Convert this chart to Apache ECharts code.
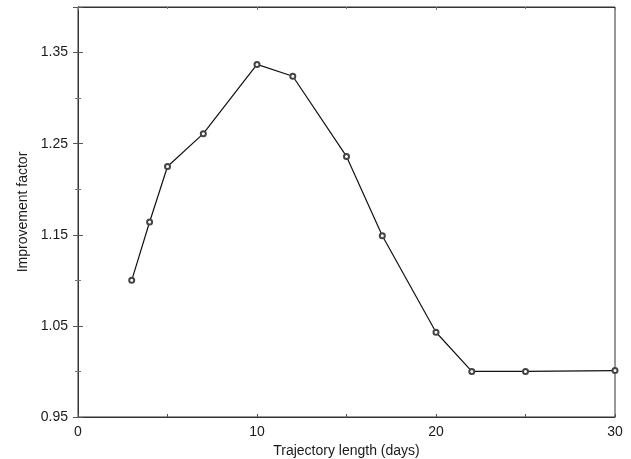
<!DOCTYPE html>
<html>
<head>
<meta charset="utf-8">
<script src="https://cdn.jsdelivr.net/npm/echarts@6/dist/echarts.min.js"></script>
<style>
  html, body { margin: 0; padding: 0; background: #fff; }
  #chart { width: 631px; height: 459px; }
</style>
</head>
<body>
<div id="chart"></div>
<script>
// trajectory length in days
var days = [3, 4, 5, 7, 10, 12, 15, 17, 20, 22, 25, 30];
// improvement factor
var factor = [1.100, 1.164, 1.225, 1.261, 1.337, 1.324, 1.236, 1.149, 1.043, 1.000, 1.000, 1.001];
var xTicks = [0, 10, 20, 30];
var yTicks = [0.95, 1.05, 1.15, 1.25, 1.35];

var pts = days.map(function (d, i) { return [d, factor[i]]; });

var chart = echarts.init(document.getElementById("chart"));
var font = "Liberation Sans";

chart.setOption({
  animation: false,
  backgroundColor: "#fff",
  grid: {
    left: 78, right: 16, top: 7, bottom: 42,
    outerBoundsMode: "none",
    show: true,
    borderColor: "#333",
    borderWidth: 1
  },
  xAxis: [
    {
      type: "value",
      min: xTicks[0],
      max: xTicks[xTicks.length - 1],
      interval: 10,
      name: "Trajectory length (days)",
      nameLocation: "middle",
      nameGap: 23,
      nameTextStyle: { fontFamily: font, fontSize: 14, color: "#1a1a1a" },
      axisLine: { show: true, lineStyle: { color: "#333" } },
      axisTick: { show: true, inside: true, length: 3, lineStyle: { color: "#555" } },
      minorTick: { show: true, splitNumber: 2, length: 3, lineStyle: { color: "#555" } },
      axisLabel: { fontFamily: font, fontSize: 14, color: "#1a1a1a", margin: 8 },
      splitLine: { show: false }
    },
    {
      type: "value",
      position: "top",
      min: xTicks[0],
      max: xTicks[xTicks.length - 1],
      interval: 10,
      axisLine: { show: true, lineStyle: { color: "#333" } },
      axisTick: { show: true, inside: true, length: 3, lineStyle: { color: "#777" } },
      minorTick: { show: true, splitNumber: 2, length: 2, lineStyle: { color: "#777" } },
      axisLabel: { show: false },
      splitLine: { show: false }
    }
  ],
  yAxis: [
    {
      type: "value",
      min: yTicks[0],
      max: 1.40,
      interval: 0.1,
      name: "Improvement factor",
      nameLocation: "middle",
      nameGap: 47,
      nameTextStyle: { fontFamily: font, fontSize: 14, color: "#1a1a1a" },
      axisLine: { show: true, lineStyle: { color: "#333" } },
      axisTick: { show: true, inside: true, length: 5, lineStyle: { color: "#555" } },
      minorTick: { show: true, splitNumber: 2, length: 3, lineStyle: { color: "#777" } },
      axisLabel: {
        fontFamily: font, fontSize: 14, color: "#1a1a1a", margin: 10,
        showMaxLabel: false,
        formatter: function (v) {
          for (var i = 0; i < yTicks.length; i++) {
            if (Math.abs(v - yTicks[i]) < 1e-6) return yTicks[i].toFixed(2);
          }
          return "";
        }
      },
      splitLine: { show: false }
    },
    {
      type: "value",
      position: "right",
      min: yTicks[0],
      max: 1.40,
      interval: 0.1,
      axisLine: { show: true, lineStyle: { color: "#333" } },
      axisTick: { show: true, inside: true, length: 5, lineStyle: { color: "#555" } },
      minorTick: { show: true, splitNumber: 2, length: 3, lineStyle: { color: "#777" } },
      axisLabel: { show: false },
      splitLine: { show: false }
    }
  ],
  series: [
    {
      type: "line",
      data: pts,
      symbol: "emptyCircle",
      symbolSize: 5,
      lineStyle: { color: "#111", width: 1.2 },
      itemStyle: { color: "#444", borderColor: "#444", borderWidth: 0.7 }
    }
  ]
});
</script>
</body>
</html>
